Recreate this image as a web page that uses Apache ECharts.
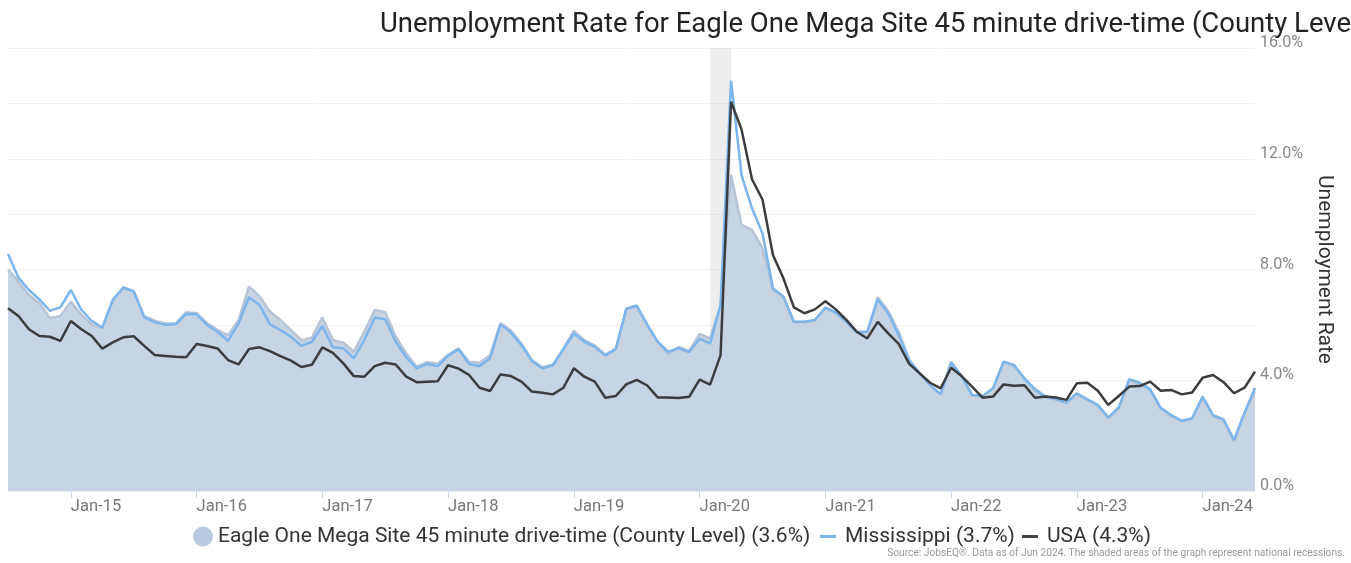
<!DOCTYPE html>
<html>
<head>
<meta charset="utf-8">
<script src="https://cdn.jsdelivr.net/npm/echarts@6/dist/echarts.min.js"></script>
<style>
  html, body { margin: 0; padding: 0; background: #fff; }
  #chart { width: 1351px; height: 563px; }
</style>
</head>
<body>
<div id="chart"></div>
<script>
// months Jul-2014 .. Jun-2024
const months = []
for (let y = 2014; y <= 2024; y++) {
  for (let m = 1; m <= 12; m++) {
    if ((y === 2014 && m < 7) || (y === 2024 && m > 6)) continue
    months.push(y + '-' + String(m).padStart(2, '0'))
  }
}

const eagle = [
  8.0, 7.56, 7.08, 6.78, 6.25, 6.32, 6.84, 6.36, 6.02, 5.88,
  6.9, 7.36, 7.22, 6.32, 6.15, 6.05, 6.05, 6.46, 6.42, 6.06,
  5.81, 5.63, 6.17, 7.38, 7.04, 6.48, 6.17, 5.81, 5.45, 5.54,
  6.27, 5.45, 5.36, 5.03, 5.75, 6.54, 6.46, 5.57, 4.97, 4.49,
  4.65, 4.6, 4.92, 5.15, 4.67, 4.63, 4.9, 6.06, 5.8, 5.32,
  4.73, 4.47, 4.56, 5.14, 5.79, 5.45, 5.25, 4.93, 5.14, 6.56,
  6.66, 6.0, 5.38, 4.93, 5.2, 5.05, 5.67, 5.51, 6.72, 11.41,
  9.61, 9.43, 8.77, 7.26, 7.0, 6.1, 6.1, 6.15, 6.62, 6.45,
  6.15, 5.75, 5.75, 7.0, 6.5, 5.75, 4.75, 4.25, 3.8, 3.48,
  4.67, 4.15, 3.45, 3.42, 3.68, 4.63, 4.52, 4.03, 3.62, 3.38,
  3.3, 3.17, 3.5, 3.28, 3.08, 2.62, 2.98, 4.0, 3.87, 3.63,
  2.97, 2.7, 2.5, 2.6, 3.37, 2.7, 2.55, 1.8, 2.8, 3.6
]

const mississippi = [
  8.56, 7.70, 7.26, 6.92, 6.51, 6.63, 7.26, 6.54, 6.14, 5.90,
  6.90, 7.34, 7.20, 6.27, 6.10, 6.00, 6.02, 6.39, 6.38, 6.00,
  5.75, 5.42, 6.05, 7.00, 6.72, 6.02, 5.81, 5.57, 5.24, 5.39,
  5.96, 5.19, 5.16, 4.79, 5.45, 6.27, 6.20, 5.39, 4.83, 4.43,
  4.59, 4.51, 4.88, 5.12, 4.59, 4.51, 4.79, 6.02, 5.72, 5.27,
  4.69, 4.43, 4.54, 5.12, 5.69, 5.39, 5.21, 4.89, 5.12, 6.58,
  6.70, 6.01, 5.39, 5.03, 5.16, 5.02, 5.50, 5.32, 6.72, 14.82,
  11.41, 10.21, 9.31, 7.32, 7.02, 6.11, 6.11, 6.18, 6.62, 6.44,
  6.11, 5.72, 5.75, 6.92, 6.42, 5.63, 4.71, 4.25, 3.83, 3.50,
  4.63, 4.15, 3.47, 3.43, 3.71, 4.67, 4.55, 4.07, 3.68, 3.41,
  3.32, 3.19, 3.53, 3.31, 3.11, 2.66, 3.02, 4.04, 3.91, 3.67,
  3.01, 2.74, 2.54, 2.63, 3.41, 2.74, 2.59, 1.84, 2.83, 3.73
]

const usa = [
  6.60, 6.32, 5.84, 5.60, 5.57, 5.42, 6.14, 5.84, 5.60, 5.14,
  5.37, 5.55, 5.59, 5.24, 4.91, 4.88, 4.85, 4.83, 5.31, 5.24,
  5.15, 4.73, 4.57, 5.13, 5.19, 5.05, 4.87, 4.71, 4.48, 4.56,
  5.19, 4.99, 4.61, 4.15, 4.13, 4.51, 4.63, 4.57, 4.13, 3.93,
  3.95, 3.96, 4.54, 4.42, 4.19, 3.73, 3.61, 4.21, 4.15, 3.95,
  3.59, 3.55, 3.49, 3.73, 4.43, 4.13, 3.95, 3.37, 3.43, 3.85,
  4.01, 3.81, 3.38, 3.38, 3.36, 3.40, 4.02, 3.84, 4.91, 14.06,
  13.06, 11.26, 10.53, 8.52, 7.68, 6.63, 6.42, 6.56, 6.85, 6.56,
  6.18, 5.75, 5.51, 6.11, 5.69, 5.31, 4.59, 4.25, 3.91, 3.71,
  4.45, 4.15, 3.77, 3.37, 3.41, 3.85, 3.80, 3.82, 3.37, 3.41,
  3.38, 3.29, 3.89, 3.91, 3.62, 3.11, 3.43, 3.77, 3.79, 3.95,
  3.62, 3.65, 3.49, 3.56, 4.09, 4.19, 3.93, 3.53, 3.73, 4.31
]

const recessions = [['2020-02', '2020-04']]

const names = {
  eagle: 'Eagle One Mega Site 45 minute drive-time (County Level) (3.6%)',
  ms: 'Mississippi (3.7%)',
  usa: 'USA (4.3%)'
}

const isJan = (idx, val) => val.slice(5) === '01'
const font = 'Roboto, "Noto Sans", sans-serif'

const chart = echarts.init(document.getElementById('chart'))

const legendText = { fontSize: 21, color: '#333', fontFamily: font }
const lineLegendText = { fontSize: 21, color: '#333', fontFamily: font, padding: [0, 0, 0, 4] }

chart.setOption({
  animation: false,
  textStyle: { fontFamily: font },
  title: {
    text: 'Unemployment Rate for Eagle One Mega Site 45 minute drive-time (County Level)',
    left: 375,
    top: 6,
    textStyle: { fontSize: 27.5, fontWeight: 'normal', color: '#222', fontFamily: font }
  },
  legend: [
    {
      data: [{ name: names.eagle, icon: 'circle' }],
      left: 193, top: 526, padding: 0, itemWidth: 20, itemHeight: 20, itemGap: 0,
      textStyle: legendText
    },
    {
      data: [{ name: names.ms, icon: 'rect' }],
      left: 820, top: 526, padding: 0, itemWidth: 16, itemHeight: 3, itemGap: 0,
      textStyle: lineLegendText
    },
    {
      data: [{ name: names.usa, icon: 'rect' }],
      left: 1022, top: 526, padding: 0, itemWidth: 16, itemHeight: 3, itemGap: 0,
      textStyle: lineLegendText
    }
  ],
  graphic: [{
    type: 'text',
    right: 6,
    top: 548,
    style: {
      text: 'Source: JobsEQ®. Data as of Jun 2024. The shaded areas of the graph represent national recessions.',
      fill: '#999',
      font: '10.2px ' + font
    }
  }],
  grid: { left: 8, right: 96, top: 48, bottom: 72 },
  xAxis: {
    type: 'category',
    data: months,
    boundaryGap: false,
    axisLine: { show: false },
    axisTick: { show: true, interval: isJan, length: 7, lineStyle: { color: '#ccd6eb' } },
    axisLabel: {
      interval: isJan,
      align: 'left',
      margin: 7,
      fontSize: 16.5,
      color: '#777',
      formatter: (v) => 'Jan-' + v.slice(2, 4)
    },
    splitLine: { show: false }
  },
  yAxis: {
    type: 'value',
    position: 'right',
    min: 0,
    max: 16,
    interval: 2,
    name: 'Unemployment Rate',
    nameLocation: 'middle',
    nameRotate: -90,
    nameGap: 53,
    nameTextStyle: { fontSize: 21, color: '#333' },
    axisLine: { show: false },
    axisTick: { show: false },
    axisLabel: {
      margin: 5,
      fontSize: 16,
      color: '#888',
      verticalAlign: 'bottom',
      lineHeight: 10,
      formatter: (v) => (v % 4 === 0 ? v.toFixed(1) + '%' : '')
    },
    splitLine: { lineStyle: { color: '#efefef', width: 1 } }
  },
  series: [
    {
      name: names.eagle,
      type: 'line',
      data: eagle,
      symbol: 'none',
      color: '#b8c9de',
      lineStyle: { color: '#b6c4d6', width: 2.5 },
      areaStyle: { color: '#c6d4e3', opacity: 1 },
      markArea: {
        silent: true,
        itemStyle: { color: 'rgba(190,190,190,0.28)' },
        data: recessions.map(([a, b]) => [{ xAxis: a }, { xAxis: b }])
      }
    },
    {
      name: names.ms,
      type: 'line',
      data: mississippi,
      symbol: 'none',
      color: '#7cb5ec',
      lineStyle: { color: '#7cb5ec', width: 2.5 }
    },
    {
      name: names.usa,
      type: 'line',
      data: usa,
      symbol: 'none',
      color: '#434348',
      lineStyle: { color: '#3c3c3e', width: 2.5 }
    }
  ]
})
</script>
</body>
</html>
